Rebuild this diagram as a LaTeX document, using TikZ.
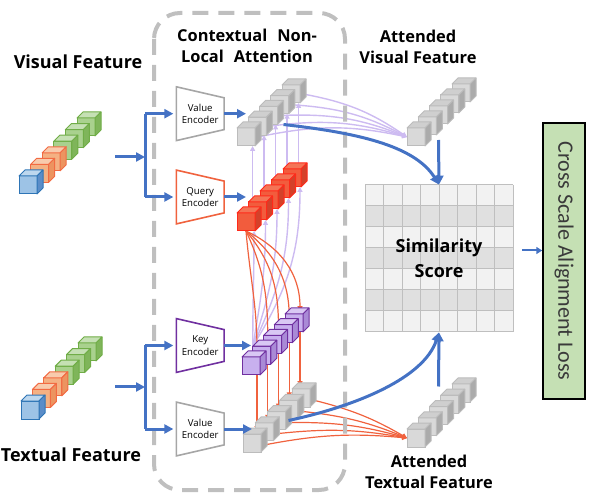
\documentclass[tikz,border=0pt]{standalone}
\usepackage{fontspec}
\setmainfont{Open Sans}
\newfontfamily\lossfont{Carlito}
\usepackage{xcolor}
\usepackage{tikz}
\usetikzlibrary{arrows.meta}
\pgfdeclarelayer{links}
\pgfsetlayers{links,main}
\definecolor{flowblue}{HTML}{4472C4}
\definecolor{linkred}{HTML}{F0623E}
\definecolor{linklav}{HTML}{CDBBF1}
\definecolor{framegrey}{HTML}{BFBFBF}
\definecolor{rowlight}{HTML}{F2F2F2}
\definecolor{rowdark}{HTML}{E0E0E0}
\definecolor{gridgrey}{HTML}{BFBFBF}
\definecolor{lossgreen}{HTML}{C5E0B4}
\definecolor{losstext}{HTML}{3A3A3A}
\definecolor{greyedge}{HTML}{A6A6A6}
\definecolor{queryedge}{HTML}{F0623E}
\definecolor{keyedge}{HTML}{7030A0}
% cube colours: front, top, side, line
\definecolor{greyfront}{HTML}{D9D9D9}
\definecolor{greytop}{HTML}{CFCFCF}
\definecolor{greyside}{HTML}{ABABAB}
\definecolor{greyline}{HTML}{BCBCBC}
\definecolor{redfront}{HTML}{F25C3D}
\definecolor{redtop}{HTML}{F47456}
\definecolor{redside}{HTML}{D4412A}
\definecolor{redline}{HTML}{FF2A1A}
\definecolor{purpfront}{HTML}{C8B0EE}
\definecolor{purptop}{HTML}{D9C8F4}
\definecolor{purpside}{HTML}{A98AD6}
\definecolor{purpline}{HTML}{7030A0}
\definecolor{blufront}{HTML}{9DC3E6}
\definecolor{blutop}{HTML}{BDD7EE}
\definecolor{bluside}{HTML}{5B8DC8}
\definecolor{bluline}{HTML}{2E75B6}
\definecolor{orafront}{HTML}{F4B183}
\definecolor{oratop}{HTML}{F8CBAD}
\definecolor{oraside}{HTML}{EC9460}
\definecolor{oraline}{HTML}{F26B43}
\definecolor{grnfront}{HTML}{A9D18E}
\definecolor{grntop}{HTML}{C5E0B4}
\definecolor{grnside}{HTML}{7FB55A}
\definecolor{grnline}{HTML}{70AD47}
\tikzstyle{flow}=[line width=1.5pt,draw=flowblue,-{Triangle[length=4.5pt,width=4.5pt]}]
\tikzstyle{fline}=[line width=1.5pt,draw=flowblue]
\tikzstyle{thinflow}=[line width=1pt,draw=flowblue,-{Triangle[length=3pt,width=3.5pt]}]
\tikzstyle{redlink}=[line width=.6pt,draw=linkred,-{Triangle[length=2.4pt,width=2.4pt]}]
\tikzstyle{lavlink}=[line width=.7pt,draw=linklav,-{Triangle[length=2.4pt,width=2.4pt]}]
\tikzstyle{blockframe}=[draw=framegrey,line width=2pt,dash pattern=on 8pt off 5pt,rounded corners=13pt]
\tikzstyle{headtxt}=[font=\fontsize{9}{10.5}\selectfont\bfseries,align=center,inner sep=0pt]
\tikzstyle{subtxt}=[font=\fontsize{8.2}{10.5}\selectfont\bfseries,align=center,inner sep=0pt]
\tikzstyle{gridtxt}=[font=\fontsize{9}{12.5}\selectfont\bfseries,align=center,inner sep=0pt,minimum width=74pt,minimum height=73.5pt]
\tikzstyle{gridline}=[draw=gridgrey,line width=.5pt]
\tikzstyle{lossbox}=[rotate=-90,draw=black,line width=.75pt,fill=lossgreen,minimum width=138pt,minimum height=21pt,inner sep=0pt,font=\lossfont\fontsize{11}{13}\selectfont,text=losstext]
\tikzstyle{cubeface}=[minimum size=9pt,inner sep=0pt,outer sep=0pt,line width=.5pt]
\tikzstyle{cubeedge}=[line width=.5pt,line join=round]
\tikzstyle{encbox}=[minimum width=23.5pt,minimum height=26.5pt,inner sep=0pt,align=center,font=\fontsize{4.8}{6.2}\selectfont]
\tikzstyle{encedge}=[line width=.8pt,line join=miter]
% #1 name, #2 centre of front face, #3 colour family
\newcommand\boxcube[3]{%
  \node[cubeface,draw=#3line,fill=#3front] (#1) at (#2) {};
  \filldraw[cubeedge,draw=#3line,fill=#3top] (#1.north west) -- ++(3pt,3pt) -- ++(9pt,0pt) -- (#1.north east) -- cycle;
  \filldraw[cubeedge,draw=#3line,fill=#3side] (#1.north east) -- ++(3pt,3pt) -- ++(0pt,-9pt) -- (#1.south east) -- cycle;
}
% #1 name, #2 centre, #3 edge colour, #4 text
\newcommand\encoder[4]{%
  \node[encbox] (#1) at (#2) {#4};
  \draw[encedge,draw=#3] (#1.north west) -- ([yshift=-5.5pt]#1.north east)
    -- ([yshift=5.5pt]#1.south east) -- (#1.south west) -- cycle;
}
\begin{document}
\begin{tikzpicture}[x=.5pt,y=.5pt]
\useasboundingbox (0,0) rectangle (600,-497);
\draw[blockframe] (154,-13) rectangle (345,-490);
\node[subtxt] (cnl) at (247,-46) {Contextual\hspace{5pt}Non-\\Local\hspace{5pt}Attention};
\node[headtxt] (vlab) at (78,-61.5) {Visual Feature};
\node[headtxt] (tlab) at (71,-454.5) {Textual Feature};
\node[subtxt] (avlab) at (418,-46.5) {Attended\\Visual Feature};
\node[subtxt] (atlab) at (429,-472) {Attended\\Textual Feature};
% input features
\foreach \i/\col in {6/grn,5/grn,4/grn,3/ora,2/ora,1/blu}{
  \boxcube{vf\i}{{28+11.6*(\i-1)},{-185+11.6*(\i-1)}}{\col}
  \boxcube{tf\i}{{30+11.4*(\i-1)},{-410+11.6*(\i-1)}}{\col}
}
% encoders
\encoder{venc}{200.25,-113.7}{greyedge}{Value\\Encoder}
\encoder{qenc}{200.25,-197}{queryedge}{Query\\Encoder}
\encoder{kenc}{200.25,-345.5}{keyedge}{Key\\Encoder}
\encoder{tenc}{200.25,-429}{greyedge}{Value\\Encoder}
% feature stacks
\foreach \i in {5,...,1}{
  \boxcube{va\i}{{246+11.25*(\i-1)},{-137+10.75*(\i-1)}}{grey}
  \boxcube{qa\i}{{246+11.5*(\i-1)},{-222+11*(\i-1)}}{red}
  \boxcube{ka\i}{{251+10.75*(\i-1)},{-366+10.75*(\i-1)}}{purp}
  \boxcube{vt\i}{{252+12.25*(\i-1)},{-443+11.25*(\i-1)}}{grey}
  \boxcube{avf\i}{{416+11.25*(\i-1)},{-137+11*(\i-1)}}{grey}
  \boxcube{atf\i}{{416+11.25*(\i-1)},{-438+11.25*(\i-1)}}{grey}
}
% similarity grid
\foreach \r in {0,2,4,6} \fill[rowlight] (365,{-185-21*\r}) rectangle (513,{-206-21*\r});
\foreach \r in {1,3,5} \fill[rowdark] (365,{-185-21*\r}) rectangle (513,{-206-21*\r});
\foreach \c in {0,...,8} \draw[gridline] ({365+18.5*\c},-185) -- ({365+18.5*\c},-332);
\foreach \r in {0,...,7} \draw[gridline] (365,{-185-21*\r}) -- (513,{-185-21*\r});
\node[gridtxt] (grid) at (439,-258.5) {Similarity\\Score};
\node[lossbox] (loss) at (564,-261) {Cross Scale Alignment Loss};
% attention links
\begin{pgfonlayer}{links}
  \foreach \i in {1,...,5}{
    \path ([xshift=3.3pt,yshift=1.5pt]qa\i.north) coordinate (qu\i);
    \draw[lavlink] (qu\i) -- (qu\i |- va\i.south);
    \draw[lavlink] ([xshift=1.5pt]va\i.east) to[bend left=12] (avf1.west);
    \path ([xshift=3pt]ka\i.south) coordinate (kd\i);
    \path ([yshift=1.5pt]vt\i.north) coordinate (vu\i);
    \draw[redlink] (kd\i) -- (kd\i |- vu\i);
    \draw[redlink] ([xshift=1.5pt,yshift=-1pt]vt\i.east) to[bend left=8] (atf1.west);
  }
  \foreach \i/\a in {1/90,2/80,3/72,4/65,5/58}
    \draw[lavlink] (ka2.north west) to[out=\a,in=-90] ([xshift=-.5pt]qa\i.south east);
  \foreach \i/\a in {1/-85,2/-65,3/-50,4/-38,5/-25}
    \draw[redlink] (qa1.south) to[out=\a,in=90] ([xshift=3pt,yshift=1.5pt]ka\i.north);
\end{pgfonlayer}
% blue flow
\coordinate (vin) at (115,-157);
\coordinate (vsplit) at (145,-157);
\coordinate (tin) at (115,-387);
\coordinate (tsplit) at (145,-387);
\draw[flow] (vin) -- (vsplit);
\draw[flow] (tin) -- (tsplit);
\draw[fline] (venc.west -| vsplit) -- (qenc.west -| vsplit);
\draw[fline] (kenc.west -| tsplit) -- (tenc.west -| tsplit);
\draw[flow] (venc.west -| vsplit) -- ([xshift=-1.5pt]venc.west);
\draw[flow] (qenc.west -| vsplit) -- ([xshift=-1.5pt]qenc.west);
\draw[flow] (kenc.west -| tsplit) -- ([xshift=-1.5pt]kenc.west);
\draw[flow] (tenc.west -| tsplit) -- ([xshift=-1.5pt]tenc.west);
\draw[flow] (venc.east) -- (venc.east -| va1);
\draw[flow] (qenc.east) -- (qenc.east -| qa1);
\draw[flow] (kenc.east) -- (kenc.east -| ka1);
\draw[flow] (tenc.east) -- (tenc.east -| vt1);
\draw[flow] ([xshift=3pt]va3.south east) .. controls +(70,-8) and +(-25,40) .. (grid.north);
\draw[flow] ([xshift=1.5pt]vt3.east) .. controls +(70,15) and +(-15,-45) .. (grid.south);
\draw[flow] ([yshift=-8pt]avf3.south) -- (grid.north);
\draw[flow] ([yshift=10pt]atf3.north) -- (grid.south);
\coordinate (gout) at ([shift={(4.5pt,4pt)}]grid.east);
\draw[thinflow] (gout) -- (gout -| loss.south);
\end{tikzpicture}
\end{document}
